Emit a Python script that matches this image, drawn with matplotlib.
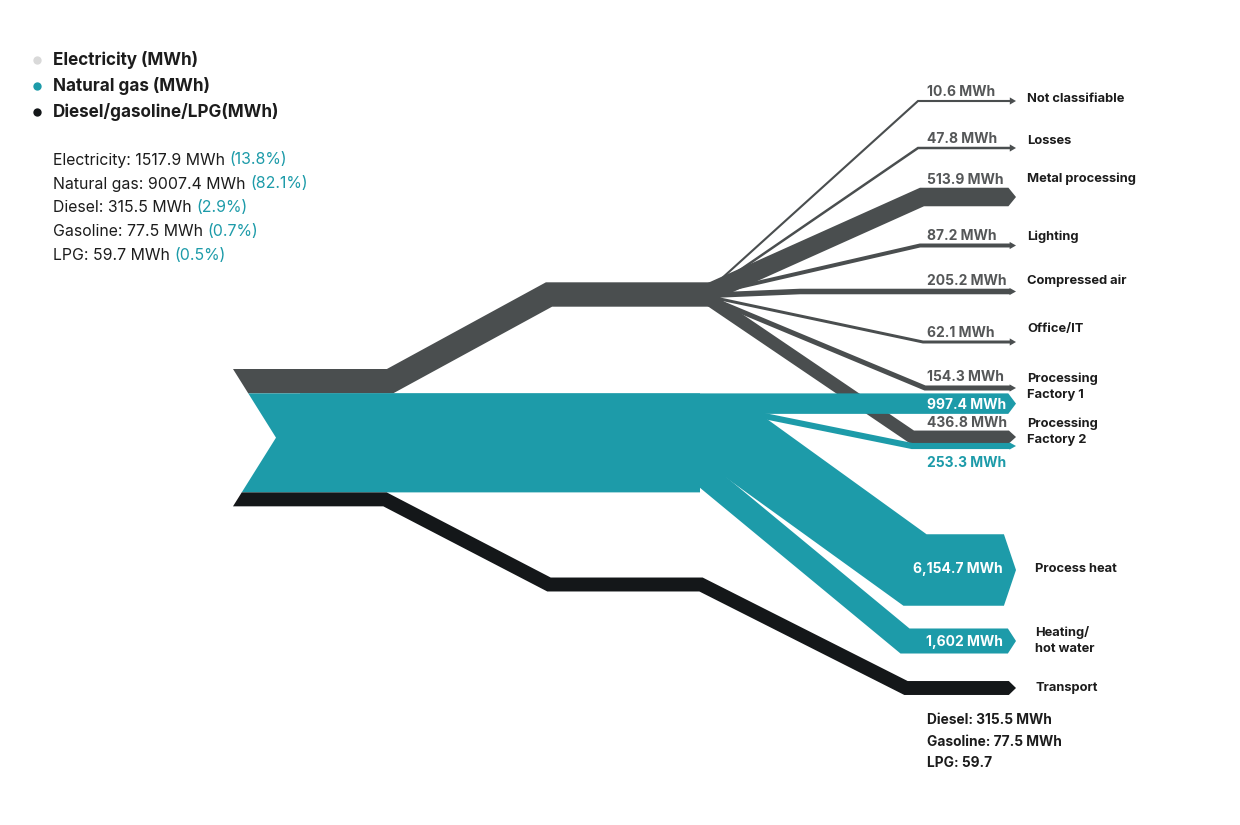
import numpy as np
import matplotlib.pyplot as plt
from matplotlib.patches import Polygon

plt.rcParams['font.family'] = ['Inter', 'DejaVu Sans']

# data
sources = ['Electricity (MWh)', 'Natural gas (MWh)', 'Diesel/gasoline/LPG(MWh)']
fuel_names = ['Electricity', 'Natural gas', 'Diesel', 'Gasoline', 'LPG']
fuel_mwh = [1517.9, 9007.4, 315.5, 77.5, 59.7]
fuel_pct = [13.8, 82.1, 2.9, 0.7, 0.5]

elec_uses = ['Not classifiable', 'Losses', 'Metal processing', 'Lighting',
             'Compressed air', 'Office/IT', 'Processing\nFactory 1', 'Processing\nFactory 2']
elec_mwh = [10.6, 47.8, 513.9, 87.2, 205.2, 62.1, 154.3, 436.8]

gas_uses = ['Processing Factory 1', 'Processing Factory 2', 'Process heat', 'Heating/\nhot water']
gas_mwh = [997.4, 253.3, 6154.7, 1602]

transport_names = ['Diesel', 'Gasoline', 'LPG']
transport_mwh = [315.5, 77.5, 59.7]

source_mwh = [fuel_mwh[0], fuel_mwh[1], sum(transport_mwh)]

# band thickness scale (MWh -> px), piecewise like the designed chart
scale_dom = [0, 50, 100, 250, 440, 520, 1000, 1600, 6000, 9000]
scale_px = [2, 2.5, 4.5, 6, 13, 19, 20.5, 25, 70, 99]


def thick(v):
    return float(np.interp(v, scale_dom, scale_px))


GREY = '#4a4e4f'
TEAL = '#1d9ba9'
BLACK = '#141719'
TXT = '#1c1c1c'
VAL = '#555758'

fig = plt.figure(figsize=(12.4, 8.25), dpi=100)
ax = fig.add_axes([0, 0, 1, 1])
ax.set_xlim(0, 1240)
ax.set_ylim(825, 0)
ax.axis('off')

TIP_X = 1016
LEFT_X = 233
NOTCH = 43


def outline(pts, t):
    pts = np.asarray(pts, float)
    h = t / 2
    seg = np.diff(pts, axis=0)
    d = seg / np.linalg.norm(seg, axis=1)[:, None]
    n = np.column_stack([d[:, 1], -d[:, 0]])
    up, lo = [], []
    for i, p in enumerate(pts):
        if i == 0:
            m, k = n[0], h
        elif i == len(pts) - 1:
            m, k = n[-1], h
        else:
            m = n[i - 1] + n[i]
            m = m / np.linalg.norm(m)
            k = h / np.dot(m, n[i])
        up.append(p + m * k)
        lo.append(p - m * k)
    return up, lo


def flow(pts, value, color, head=True, tail=None, z=1):
    t = thick(value)
    pts = [list(p) for p in pts]
    h = t / 2
    if head:
        L = 6 + 0.17 * h
        pts[-1][0] = TIP_X - L
    up, lo = outline(pts, t)
    poly = [tuple(p) for p in up]
    if head:
        xb, yc = pts[-1]
        H = max(h, 3.6)
        poly += [(xb, yc - H), (xb + L, yc), (xb, yc + H)]
    poly += [tuple(p) for p in lo[::-1]]
    if tail is not None:
        poly += tail(lo[0][1], up[0][1])
    ax.add_patch(Polygon(poly, closed=True, facecolor=color, edgecolor='none', zorder=z))
    return t


# source stack with chevron left edge
stack_top = 369
src_t = [thick(v) for v in source_mwh]
stack_bot = stack_top + sum(src_t)
notch_y = (stack_top + stack_bot) / 2


def chev_x(y):
    return LEFT_X + NOTCH * (1 - abs(y - notch_y) / (notch_y - stack_top))


def chevron(bot, top):
    pts = [(chev_x(bot), bot)]
    if top < notch_y < bot:
        pts.append((LEFT_X + NOTCH, notch_y))
    pts.append((chev_x(top), top))
    return pts


tops = stack_top + np.concatenate([[0], np.cumsum(src_t)[:-1]])
yc = tops + np.array(src_t) / 2

# electricity source and its fan
flow([(300, yc[0]), (390, yc[0]), (549, 294.5), (716, 294.5)], source_mwh[0], GREY,
     head=False, tail=chevron)

elec_y = [101, 148, 197, 245.5, 291.5, 342, 388, 437]
elec_bend = [918, 918, 922, 920, 800, 923, 925, 912]
elec_label_y = [99, 141, 179, 237, 281, 329, 386.5, 431.5]
origins = np.linspace(289, 300, len(elec_mwh))
for v, ty, bx, y0 in zip(elec_mwh, elec_y, elec_bend, origins):
    t = flow([(710, y0), (bx, ty), (TIP_X, ty)], v, GREY, z=2)
    ax.text(927, ty - t / 2 - 8, f'{v:g} MWh', color=VAL, fontsize=10,
            fontweight='bold', va='center', ha='left')
for name, ly in zip(elec_uses, elec_label_y):
    ax.text(1027, ly, name, color=TXT, fontsize=9.3, fontweight='bold',
            va='center', ha='left', linespacing=1.45)

# natural gas source and branches
flow([(300, yc[1]), (700, yc[1])], source_mwh[1], TEAL, head=False, tail=chevron, z=3)
t997 = thick(gas_mwh[0])
gas_paths = [
    [(300, tops[1] + t997 / 2), (TIP_X, tops[1] + t997 / 2)],
    [(700, 403), (912, 446), (TIP_X, 446)],
    [(600, 441.5), (737, 441.5), (915, 570), (TIP_X, 570)],
    [(600, 460), (686, 460), (905, 641), (TIP_X, 641)],
]
for v, p in zip(gas_mwh, gas_paths):
    flow(p, v, TEAL, z=3)


def fmt(v):
    return f'{v:,.1f}'.rstrip('0').rstrip('.')


ax.text(927, gas_paths[0][0][1] + 1, f'{fmt(gas_mwh[0])} MWh', color='white', fontsize=10,
        fontweight='bold', va='center', ha='left', zorder=5)
ax.text(927, 463, f'{fmt(gas_mwh[1])} MWh', color=TEAL, fontsize=10,
        fontweight='bold', va='center', ha='left', zorder=5)
ax.text(1003, 569, f'{fmt(gas_mwh[2])} MWh', color='white', fontsize=10,
        fontweight='bold', va='center', ha='right', zorder=5)
ax.text(1003, 642, f'{fmt(gas_mwh[3])} MWh', color='white', fontsize=10,
        fontweight='bold', va='center', ha='right', zorder=5)
ax.text(1035, 569, gas_uses[2], color=TXT, fontsize=9.3, fontweight='bold', va='center')
ax.text(1035, 640.5, gas_uses[3], color=TXT, fontsize=9.3, fontweight='bold', va='center',
        linespacing=1.45)

# diesel / gasoline / LPG to transport
flow([(300, yc[2]), (385, yc[2]), (549, 584.5), (701, 584.5), (906, 688), (TIP_X, 688)],
     source_mwh[2], BLACK, tail=chevron, z=4)
ax.text(1035, 688, 'Transport', color=TXT, fontsize=9.3, fontweight='bold', va='center')
for i, (n, v) in enumerate(zip(transport_names, transport_mwh)):
    s = f'{n}: {v:g}' + (' MWh' if n != 'LPG' else '')
    ax.text(927, 720 + 21.5 * i, s, color=TXT, fontsize=9.9, fontweight='bold', va='center')

# legend
for i, (name, c) in enumerate(zip(sources, ['#d9d9d9', TEAL, BLACK])):
    y = 60 + 26 * i
    ax.plot(37, y, 'o', color=c, markersize=6, markeredgewidth=0)
    ax.text(53, y, name, color=TXT, fontsize=12.3, fontweight='bold', va='center')

fig.canvas.draw()
r = fig.canvas.get_renderer()
for i, (n, v, p) in enumerate(zip(fuel_names, fuel_mwh, fuel_pct)):
    y = 160 + 24 * i
    t1 = ax.text(53, y, f'{n}: {v:g} MWh ', color=TXT, fontsize=11.4, va='center')
    w = t1.get_window_extent(renderer=r).width
    ax.text(53 + w, y, f'({p}%)', color=TEAL, fontsize=11.4, va='center')

fig.savefig('out.png', dpi=100)
